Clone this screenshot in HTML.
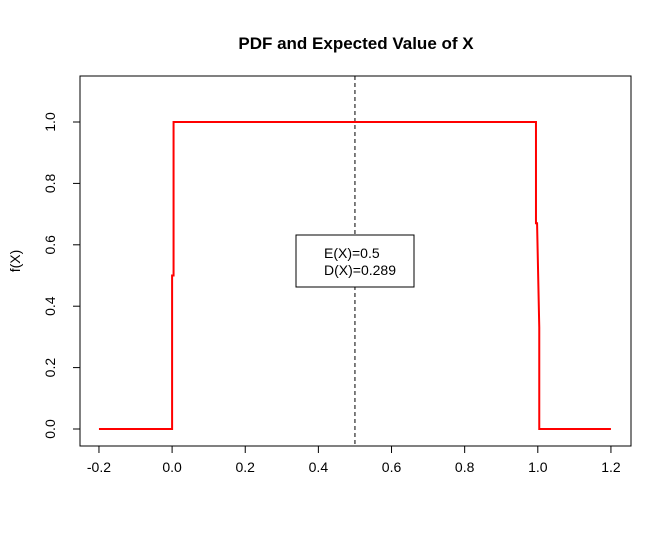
<!DOCTYPE html>
<html><head><meta charset="utf-8"><style>
body{margin:0;background:#fff;}
svg{display:block;font-family:"Liberation Sans",Arial,sans-serif;}
</style></head><body>
<svg id="chart" width="672" height="541">
<rect width="672" height="541" fill="#fff"/>
<text x="356" y="49" text-anchor="middle" font-weight="bold" font-size="17">PDF and Expected Value of X</text>
<rect x="80" y="76" width="551" height="370" fill="none" stroke="#000"/>
<text transform="translate(20,261) rotate(-90)" text-anchor="middle" font-size="14">f(X)</text>
<g id="xaxis"></g>
<g id="yaxis"></g>
<g id="series"></g>
<g>
<rect x="296" y="235" width="118" height="52" fill="#fff" stroke="#000"/>
<text x="324" y="258" font-size="14">E(X)=0.5</text>
<text x="324" y="275" font-size="14">D(X)=0.289</text>
</g>
</svg>
<script>
const xTicks=[-0.2,0,0.2,0.4,0.6,0.8,1.0,1.2];
const xTickLabels=["-0.2","0.0","0.2","0.4","0.6","0.8","1.0","1.2"];
const yTicks=[0,0.2,0.4,0.6,0.8,1.0];
const yTickLabels=["0.0","0.2","0.4","0.6","0.8","1.0"];
const xValues=[-0.2,0,0,0.004,0.004,0.995,0.995,0.998,1.004,1.004,1.2];
const yValues=[0,0,0.5,0.5,1,1,0.67,0.67,0.33,0,0];
const meanValue=0.5;
const NS="http://www.w3.org/2000/svg";
const sx=v=>172.1+v*365.7;
const sy=v=>429-v*307;
function mk(t,a,p){const e=document.createElementNS(NS,t);for(const k in a)e.setAttribute(k,a[k]);p.appendChild(e);return e;}
const xa=document.getElementById('xaxis');
mk('line',{x1:sx(xTicks[0]),x2:sx(xTicks[xTicks.length-1]),y1:446,y2:446,stroke:'#000'},xa);
xTicks.forEach((t,i)=>{
 const l=mk('line',{x1:sx(t),x2:sx(t),y1:446,y2:453,stroke:'#000'},xa);
 
 
 const tx=mk('text',{x:sx(t),y:472,'text-anchor':'middle','font-size':14},xa);
 tx.textContent=xTickLabels[i];
 
 
});
const ya=document.getElementById('yaxis');
mk('line',{x1:80,x2:80,y1:sy(yTicks[0]),y2:sy(yTicks[yTicks.length-1]),stroke:'#000'},ya);
yTicks.forEach((t,i)=>{
 const l=mk('line',{x1:73,x2:80,y1:sy(t),y2:sy(t),stroke:'#000'},ya);
 
 
 const tx=mk('text',{transform:`translate(55,${sy(t)}) rotate(-90)`,'text-anchor':'middle','font-size':14},ya);
 tx.textContent=yTickLabels[i];
 
 
});
const s=document.getElementById('series');
const ml=mk('line',{x1:sx(meanValue),x2:sx(meanValue),y1:76,y2:446,stroke:'#000','stroke-dasharray':'4,3'},s);


const pl=mk('polyline',{points:xValues.map((x,i)=>sx(x)+','+sy(yValues[i])).join(' '),fill:'none',stroke:'#ff0000','stroke-width':2},s);


</script>
</body></html>
